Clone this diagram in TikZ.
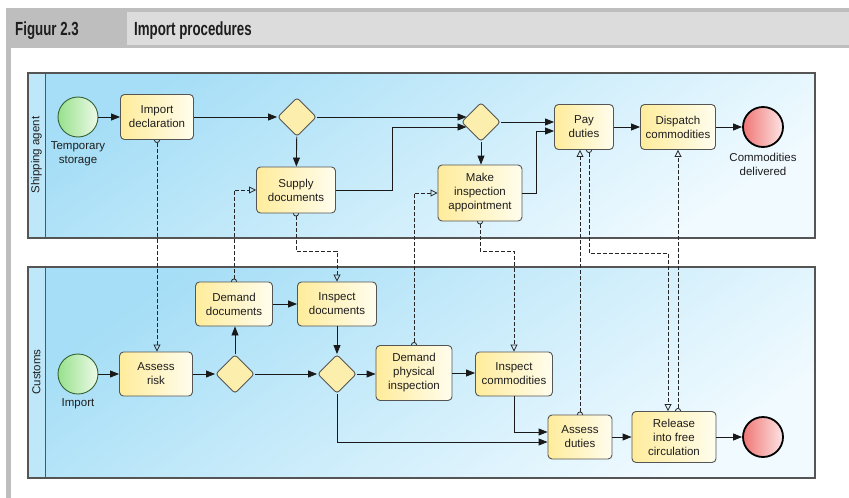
\documentclass[tikz,border=0pt]{standalone}
\usepackage{fontspec}
\setmainfont{Liberation Sans}
\newfontfamily\headfont[FakeStretch=0.7]{Liberation Sans}
\usetikzlibrary{arrows.meta,shapes.geometric,calc}
\pgfdeclarelayer{poollayer}
\pgfdeclarelayer{msglayer}
\pgfsetlayers{poollayer,msglayer,main}
\definecolor{taskL}{RGB}{255,236,155}
\definecolor{taskR}{RGB}{255,253,238}
\definecolor{edgegray}{RGB}{85,85,85}
\definecolor{poolTop}{RGB}{165,222,246}
\definecolor{poolBot}{RGB}{240,250,255}
\definecolor{stripc}{RGB}{190,232,250}
\definecolor{hdrDark}{RGB}{190,190,190}
\definecolor{hdrLight}{RGB}{220,220,220}
\definecolor{gwfill}{RGB}{252,238,172}
\definecolor{startL}{RGB}{150,225,140}
\definecolor{startR}{RGB}{238,250,232}
\definecolor{endL}{RGB}{240,118,118}
\definecolor{endR}{RGB}{253,228,228}
\definecolor{txt}{RGB}{30,30,30}
\newcommand\tsize{\fontsize{11.5}{14}\selectfont}
\tikzset{
  task/.style={rectangle, rounded corners=4pt, draw=edgegray, line width=0.9pt,
    left color=taskL, right color=taskR, align=center, inner sep=0pt,
    font=\tsize, text=txt},
  gw/.style={diamond, aspect=1, draw=edgegray, line width=0.9pt, fill=gwfill,
    minimum width=39pt, minimum height=39pt, inner sep=0pt, rounded corners=3pt},
  startev/.style={circle, draw=black!70!green!60!gray, line width=0.9pt,
    left color=startL, right color=startR, minimum size=40pt, inner sep=0pt},
  endev/.style={circle, draw=black, line width=1.8pt,
    left color=endL, right color=endR, minimum size=40pt, inner sep=0pt},
  lbl/.style={align=center, font=\tsize, text=txt, inner sep=0pt},
  seq/.style={draw=black!90, line width=0.9pt, -{Triangle[length=9pt,width=7pt]}},
  msg/.style={draw=black!85, line width=0.8pt, dash pattern=on 4pt off 2pt,
    {Circle[open,length=6pt,width=6pt]}-{Triangle[open,length=7pt,width=7pt]},
    shorten <=-3pt},
  poolbox/.style={draw=edgegray, line width=1.2pt},
  headtxt/.style={anchor=base west, inner sep=0pt,
    font=\headfont\bfseries\fontsize{19}{22}\selectfont, text=txt},
}
\begin{document}
\begin{tikzpicture}[x=1pt,y=-1pt]
\useasboundingbox (0,0) rectangle (849,498);
% header
\fill[hdrDark] (6,8) rectangle (849,48);
\fill[hdrLight] (127,12) rectangle (849,45);
\fill[hdrDark] (6,48) rectangle (11,498);
\node[headtxt] (fig) at (15,35) {Figuur 2.3};
\node[headtxt] (ttl) at (134,35) {Import procedures};

% pools
\begin{pgfonlayer}{poollayer}
\shade[top color=poolTop, bottom color=poolBot, shading angle=35] (28,73) rectangle (815,238);
\shade[top color=poolTop, bottom color=poolBot, shading angle=35] (28,267) rectangle (815,478);
\fill[stripc] (28,73) rectangle (45,238);
\fill[stripc] (28,267) rectangle (45,478);
\draw[poolbox] (28,73) rectangle (815,238);
\draw[poolbox] (28,267) rectangle (815,478);
\draw[edgegray, line width=1pt] (45,73) -- (45,238);
\draw[edgegray, line width=1pt] (45,267) -- (45,478);
\end{pgfonlayer}
\node[rotate=90, font=\tsize, text=txt] (lane1) at (36.5,155) {Shipping agent};
\node[rotate=90, font=\tsize, text=txt] (lane2) at (36.5,372) {Customs};

% shipping agent nodes
\node[startev] (ts) at (78,117) {};
\node[lbl] (tsl) at (78,154) {Temporary\\storage};
\node[task, minimum width=73pt, minimum height=45pt] (imp) at (157,117) {Import\\declaration};
\node[gw] (g1) at (297,117) {};
\node[task, minimum width=79pt, minimum height=46pt] (sup) at (296,190) {Supply\\documents};
\node[gw] (g2) at (481,122) {};
\node[task, minimum width=84pt, minimum height=56pt] (mia) at (480,193) {Make\\inspection\\appointment};
\node[task, minimum width=59pt, minimum height=45pt] (pay) at (584,127) {Pay\\duties};
\node[task, minimum width=75pt, minimum height=45pt] (dis) at (678,127) {Dispatch\\commodities};
\node[endev] (cd) at (763,127) {};
\node[lbl] (cdl) at (763,164) {Commodities\\delivered};

% customs nodes
\node[startev] (imps) at (78,374) {};
\node[lbl] (impsl) at (78,404) {Import};
\node[task, minimum width=73pt, minimum height=44pt] (ar) at (156,374) {Assess\\risk};
\node[gw] (g3) at (235,374) {};
\node[task, minimum width=77pt, minimum height=44pt] (dd) at (234,304) {Demand\\documents};
\node[task, minimum width=79pt, minimum height=44pt] (id) at (337,304) {Inspect\\documents};
\node[gw] (g4) at (337,374) {};
\node[task, minimum width=76pt, minimum height=55pt] (dpi) at (414,373) {Demand\\physical\\inspection};
\node[task, minimum width=77pt, minimum height=44pt] (ic) at (514,374) {Inspect\\commodities};
\node[task, minimum width=64pt, minimum height=44pt] (ad) at (580,437) {Assess\\duties};
\node[task, minimum width=84pt, minimum height=51pt] (rel) at (674,437) {Release\\into free\\circulation};
\node[endev] (ee) at (763,437) {};

% sequence flows, shipping agent
\draw[seq] (ts) -- (imp);
\draw[seq] (imp) -- (g1);
\draw[seq] (g1) -- (sup);
\draw[seq] (g1.east) -- ($(g2)+(-14.5,-5)$);
\draw[seq] (sup.east) -- (392,190) |- ($(g2)+(-14.5,5)$);
\draw[seq] (g2.east) -- (g2.east -| pay.west);
\draw[seq] (g2.south) -- (g2.south |- mia.north);
\draw[seq] (mia.east) -- (536,193) |- ($(pay.west)+(0,4)$);
\draw[seq] (pay) -- (dis);
\draw[seq] (dis) -- (cd);

% sequence flows, customs
\draw[seq] (imps) -- (ar);
\draw[seq] (ar) -- (g3);
\draw[seq] (g3.north) -- (g3.north |- dd.south);
\draw[seq] (dd) -- (id);
\draw[seq] (g3) -- (g4);
\draw[seq] (id) -- (g4);
\draw[seq] (g4.east) -- (g4.east -| dpi.west);
\draw[seq] (dpi.east) -- (dpi.east -| ic.west);
\draw[seq] (ic.south) |- ($(ad.west)+(0,-5)$);
\draw[seq] (g4.south) |- ($(ad.west)+(0,5)$);
\draw[seq] (ad) -- (rel);
\draw[seq] (rel) -- (ee);

% message flows
\begin{pgfonlayer}{msglayer}
\draw[msg] (imp.south) -- (imp.south |- ar.north);
\draw[msg] (dd.north) |- (sup.west);
\draw[msg] (sup.south) -- (sup.south |- 0,251) -| (id.north);
\draw[msg] (dpi.north) |- (mia.west);
\draw[msg] (mia.south) -- (mia.south |- 0,251) -| (ic.north);
\draw[msg] (ad.north) -- (ad.north |- pay.south);
\draw[msg] ($(pay.south)+(5,0)$) -- (589,253) -| ($(rel.north)+(-6,0)$);
\draw[msg] ($(rel.north)+(4,0)$) -- ($(dis.south)+(0,0)$);
\end{pgfonlayer}
\end{tikzpicture}
\end{document}
